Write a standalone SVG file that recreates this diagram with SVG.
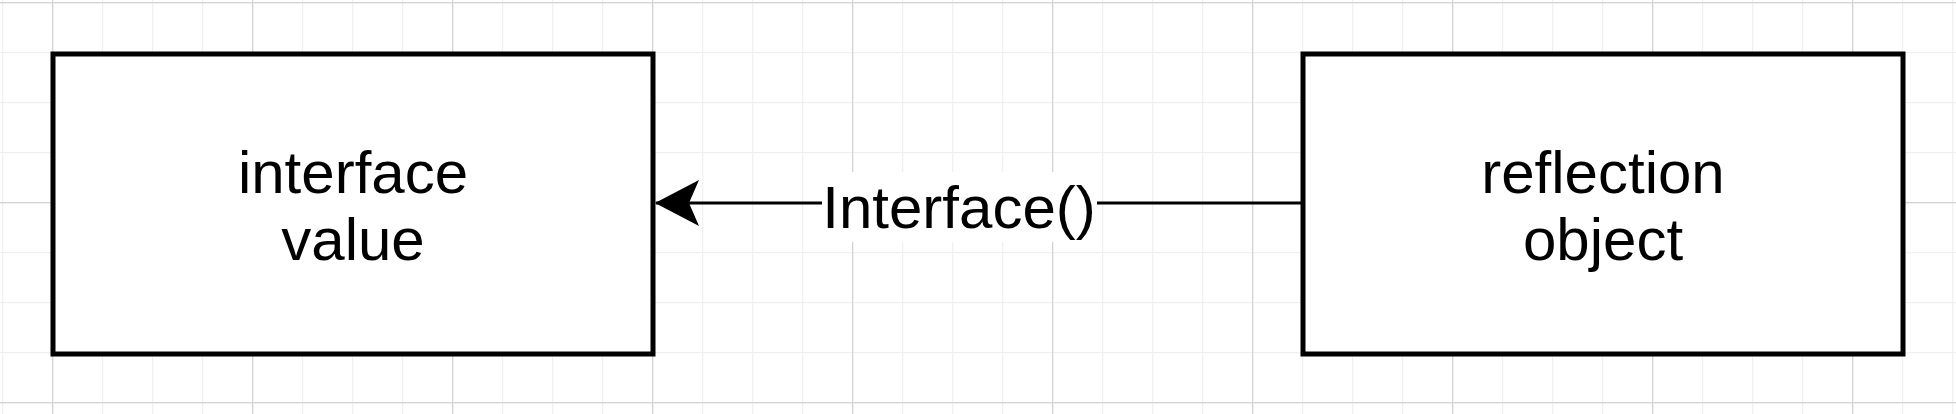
<svg xmlns="http://www.w3.org/2000/svg" width="1956" height="414" viewBox="0 0 1956 414">
<defs>
<pattern id="minor" x="2" y="2" width="50" height="50" patternUnits="userSpaceOnUse">
<path d="M0 0.5 H50 M0.5 0 V50" stroke="#f0f0f0" stroke-width="1.5" fill="none"/>
</pattern>
<pattern id="major" x="52" y="2" width="200" height="200" patternUnits="userSpaceOnUse">
<path d="M0 0.5 H200 M0.5 0 V200" stroke="#d4d4d4" stroke-width="1.5" fill="none"/>
</pattern>
<marker id="arr" viewBox="0 0 44 46" refX="43" refY="23" markerWidth="44" markerHeight="46" markerUnits="userSpaceOnUse" orient="auto">
<path d="M44 23 L0 0 L10 23 L0 46 Z" fill="#000"/>
</marker>
</defs>
<style>
.node{fill:#fff;stroke:#000;stroke-width:5}
.t{font-family:"Liberation Sans",Arial,sans-serif;font-size:60px;fill:#000;text-anchor:middle}
.edge{stroke:#000;stroke-width:3;fill:none}
</style>
<rect width="1956" height="414" fill="#fff"/>
<rect width="1956" height="414" fill="url(#minor)"/>
<rect width="1956" height="414" fill="url(#major)"/>
<g id="interface-value">
<rect class="node" x="53" y="54" width="600" height="300"/>
<text class="t" x="353" y="193">interface</text>
<text class="t" x="353" y="260">value</text>
</g>
<g id="reflection-object">
<rect class="node" x="1303" y="54" width="600" height="300"/>
<text class="t" x="1603" y="193">reflection</text>
<text class="t" x="1603" y="260">object</text>
</g>
<g id="edges">
<path class="edge" d="M1303 203 H656" marker-end="url(#arr)"/>
<rect x="822" y="172" width="275" height="70" fill="#fff"/>
<text class="t" x="959" y="228">Interface()</text>
</g>
</svg>
